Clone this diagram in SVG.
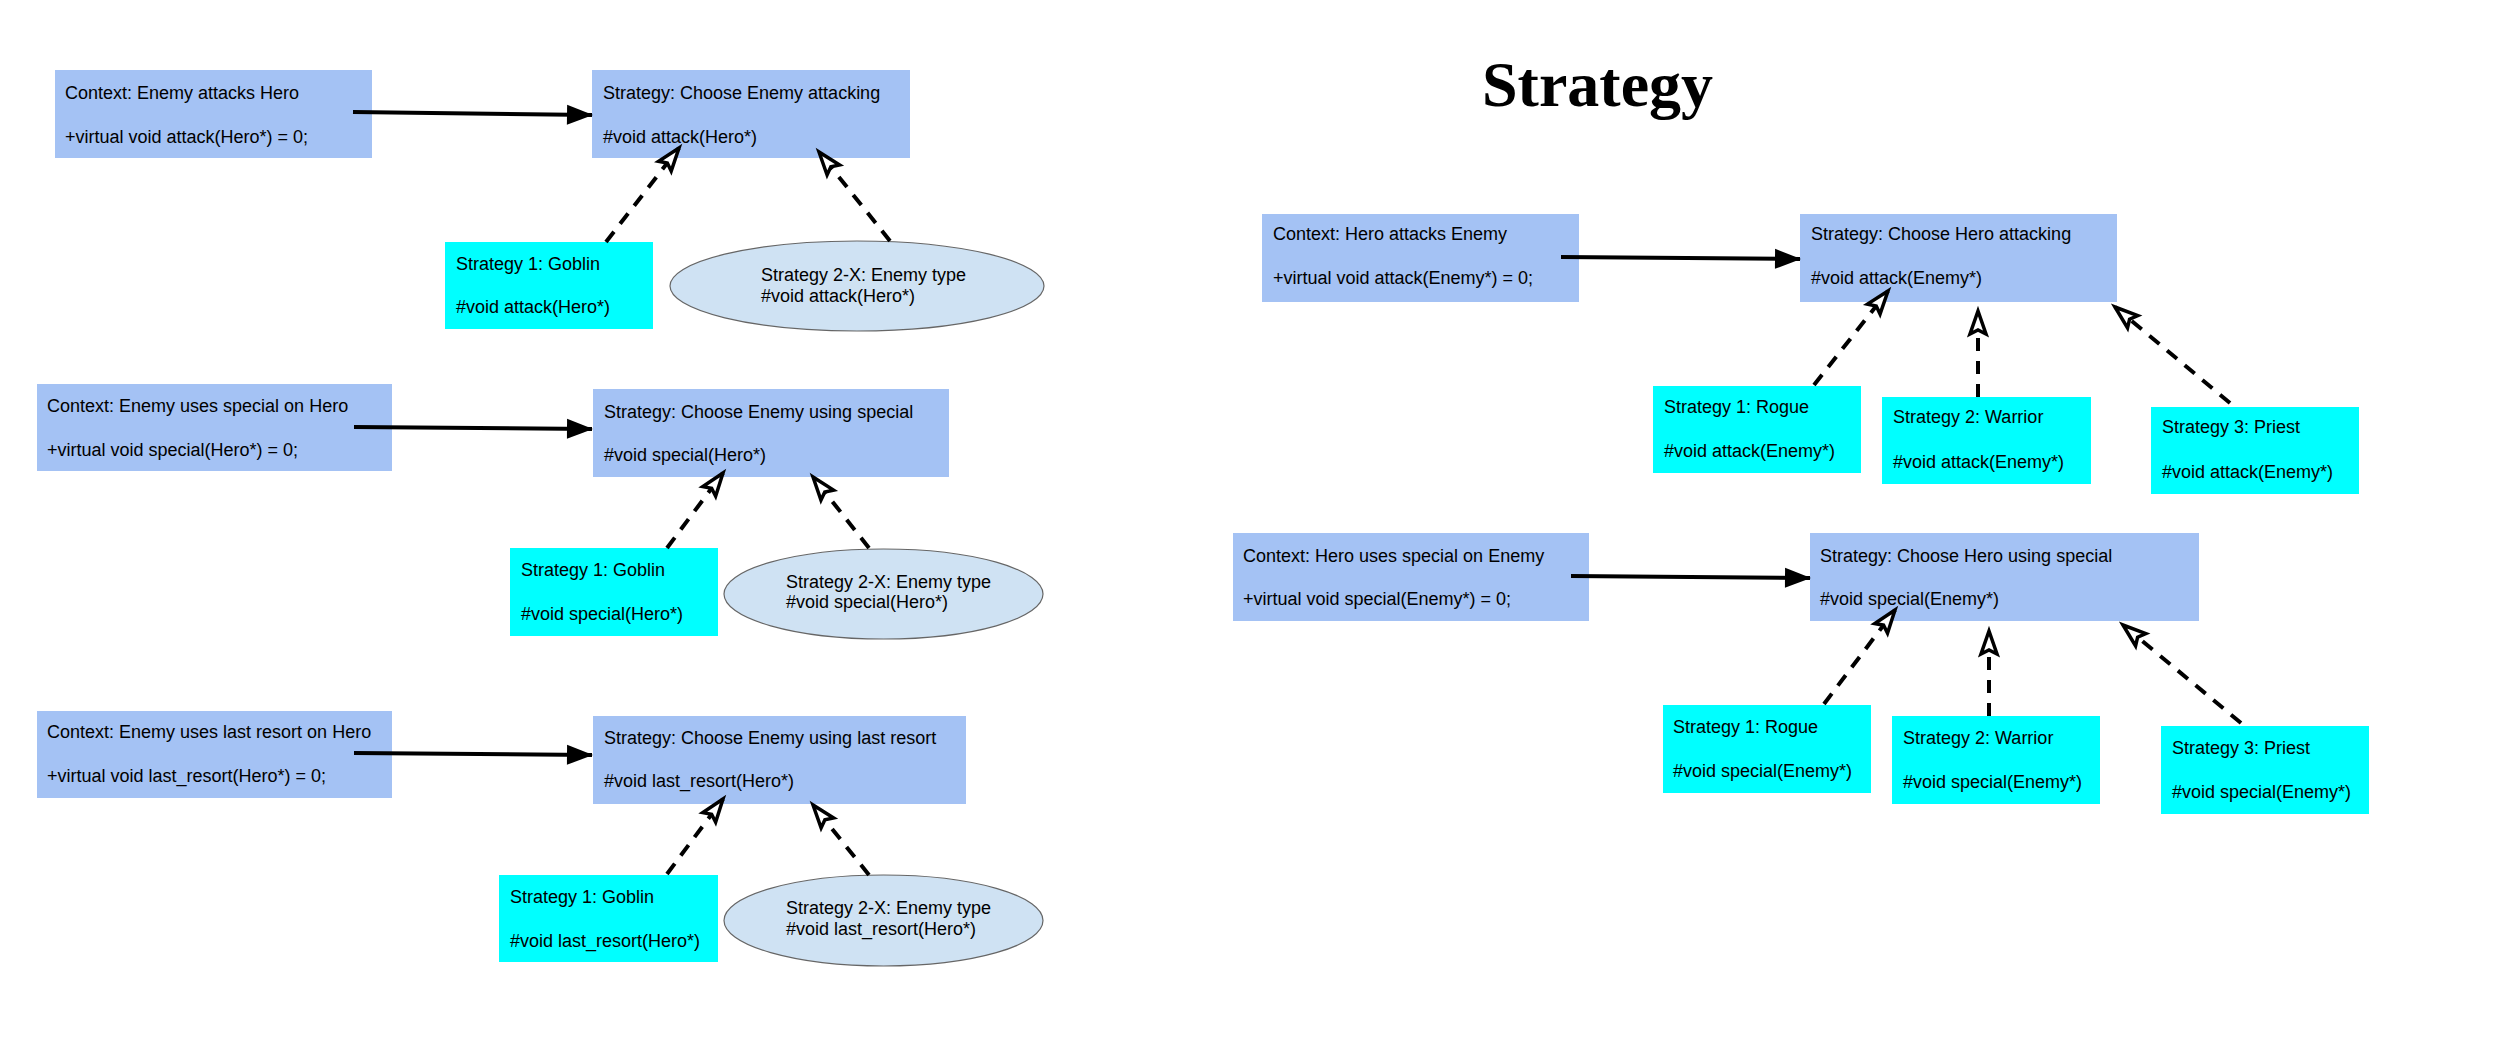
<svg xmlns="http://www.w3.org/2000/svg" width="2500" height="1063" viewBox="0 0 2500 1063">
<style>
text{font-family:"Liberation Sans",Arial,sans-serif;font-size:18px;fill:#000}
.title{font-family:"Liberation Serif","Times New Roman",serif;font-size:64px;font-weight:bold}
.blue{fill:#a4c2f4}
.cyan{fill:#00ffff}
.ell{fill:#cfe2f3;stroke:#666666;stroke-width:1.2}
.assoc{stroke:#000;stroke-width:4;fill:none;marker-end:url(#solid)}
.real{stroke:#000;stroke-width:4;stroke-dasharray:13 10;fill:none;marker-end:url(#hollow)}
</style>
<defs>
<marker id="solid" markerUnits="userSpaceOnUse" markerWidth="30" markerHeight="24" refX="25" refY="10" orient="auto" overflow="visible">
<path d="M0,0 L26,10 L0,20 Z" fill="#000"/>
</marker>
<marker id="hollow" markerUnits="userSpaceOnUse" markerWidth="30" markerHeight="24" refX="24" refY="9" orient="auto" overflow="visible">
<path d="M24,9 L1,1 L5,9 L1,17 Z" fill="#fff" stroke="#000" stroke-width="3.5" stroke-linejoin="miter"/>
</marker>
</defs>
<rect width="2500" height="1063" fill="#fff"/>
<text class="title" x="1482" y="106">Strategy</text>

<g id="ctx1"><rect class="blue" x="55" y="70" width="317" height="88"/><text x="65" y="99">Context: Enemy attacks Hero</text><text x="65" y="143">+virtual void attack(Hero*) = 0;</text></g>
<g id="strat1"><rect class="blue" x="592" y="70" width="318" height="88"/><text x="603" y="99">Strategy: Choose Enemy attacking</text><text x="603" y="143">#void attack(Hero*)</text></g>
<g id="goblin1"><rect class="cyan" x="445" y="242" width="208" height="87"/><text x="456" y="270">Strategy 1: Goblin</text><text x="456" y="313">#void attack(Hero*)</text></g>
<g id="enemy1"><ellipse class="ell" cx="857" cy="286" rx="187" ry="45"/><text x="761" y="281">Strategy 2-X: Enemy type</text><text x="761" y="302">#void attack(Hero*)</text></g>

<g id="ctx2"><rect class="blue" x="37" y="384" width="355" height="87"/><text x="47" y="412">Context: Enemy uses special on Hero</text><text x="47" y="456">+virtual void special(Hero*) = 0;</text></g>
<g id="strat2"><rect class="blue" x="593" y="389" width="356" height="88"/><text x="604" y="418">Strategy: Choose Enemy using special</text><text x="604" y="461">#void special(Hero*)</text></g>
<g id="goblin2"><rect class="cyan" x="510" y="548" width="208" height="88"/><text x="521" y="576">Strategy 1: Goblin</text><text x="521" y="620">#void special(Hero*)</text></g>
<g id="enemy2"><ellipse class="ell" cx="883.5" cy="594" rx="159.5" ry="45"/><text x="786" y="588">Strategy 2-X: Enemy type</text><text x="786" y="608">#void special(Hero*)</text></g>

<g id="ctx3"><rect class="blue" x="37" y="711" width="355" height="87"/><text x="47" y="738">Context: Enemy uses last resort on Hero</text><text x="47" y="782">+virtual void last_resort(Hero*) = 0;</text></g>
<g id="strat3"><rect class="blue" x="593" y="716" width="373" height="88"/><text x="604" y="744">Strategy: Choose Enemy using last resort</text><text x="604" y="787">#void last_resort(Hero*)</text></g>
<g id="goblin3"><rect class="cyan" x="499" y="875" width="219" height="87"/><text x="510" y="903">Strategy 1: Goblin</text><text x="510" y="947">#void last_resort(Hero*)</text></g>
<g id="enemy3"><ellipse class="ell" cx="883.5" cy="920.5" rx="159.5" ry="45.5"/><text x="786" y="914">Strategy 2-X: Enemy type</text><text x="786" y="935">#void last_resort(Hero*)</text></g>

<g id="ctx4"><rect class="blue" x="1262" y="214" width="317" height="88"/><text x="1273" y="240">Context: Hero attacks Enemy</text><text x="1273" y="284">+virtual void attack(Enemy*) = 0;</text></g>
<g id="strat4"><rect class="blue" x="1800" y="214" width="317" height="88"/><text x="1811" y="240">Strategy: Choose Hero attacking</text><text x="1811" y="284">#void attack(Enemy*)</text></g>
<g id="rogue1"><rect class="cyan" x="1653" y="386" width="208" height="87"/><text x="1664" y="413">Strategy 1: Rogue</text><text x="1664" y="457">#void attack(Enemy*)</text></g>
<g id="warrior1"><rect class="cyan" x="1882" y="397" width="209" height="87"/><text x="1893" y="423">Strategy 2: Warrior</text><text x="1893" y="468">#void attack(Enemy*)</text></g>
<g id="priest1"><rect class="cyan" x="2151" y="407" width="208" height="87"/><text x="2162" y="433">Strategy 3: Priest</text><text x="2162" y="478">#void attack(Enemy*)</text></g>

<g id="ctx5"><rect class="blue" x="1233" y="533" width="356" height="88"/><text x="1243" y="562">Context: Hero uses special on Enemy</text><text x="1243" y="605">+virtual void special(Enemy*) = 0;</text></g>
<g id="strat5"><rect class="blue" x="1810" y="533" width="389" height="88"/><text x="1820" y="562">Strategy: Choose Hero using special</text><text x="1820" y="605">#void special(Enemy*)</text></g>
<g id="rogue2"><rect class="cyan" x="1663" y="705" width="208" height="88"/><text x="1673" y="733">Strategy 1: Rogue</text><text x="1673" y="777">#void special(Enemy*)</text></g>
<g id="warrior2"><rect class="cyan" x="1892" y="716" width="208" height="88"/><text x="1903" y="744">Strategy 2: Warrior</text><text x="1903" y="788">#void special(Enemy*)</text></g>
<g id="priest2"><rect class="cyan" x="2161" y="726" width="208" height="88"/><text x="2172" y="754">Strategy 3: Priest</text><text x="2172" y="798">#void special(Enemy*)</text></g>

<g id="connectors">
<line class="assoc" x1="353" y1="112" x2="592" y2="115"/>
<line class="assoc" x1="354" y1="427" x2="592" y2="429"/>
<line class="assoc" x1="354" y1="753" x2="592" y2="755"/>
<line class="assoc" x1="1561" y1="257" x2="1800" y2="259"/>
<line class="assoc" x1="1571" y1="576" x2="1810" y2="578"/>
<line class="real" x1="606" y1="242" x2="679" y2="148"/>
<line class="real" x1="890" y1="241" x2="819" y2="152"/>
<line class="real" x1="667" y1="548" x2="723" y2="473"/>
<line class="real" x1="869" y1="548" x2="813" y2="477"/>
<line class="real" x1="667" y1="874" x2="723" y2="799"/>
<line class="real" x1="869" y1="875" x2="813" y2="805"/>
<line class="real" x1="1814" y1="385" x2="1888" y2="291"/>
<line class="real" x1="1978" y1="397" x2="1978" y2="311"/>
<line class="real" x1="2230" y1="403" x2="2115" y2="307"/>
<line class="real" x1="1824" y1="704" x2="1895" y2="610"/>
<line class="real" x1="1989" y1="716" x2="1989" y2="631"/>
<line class="real" x1="2241" y1="723" x2="2123" y2="625"/>
</g>
</svg>
